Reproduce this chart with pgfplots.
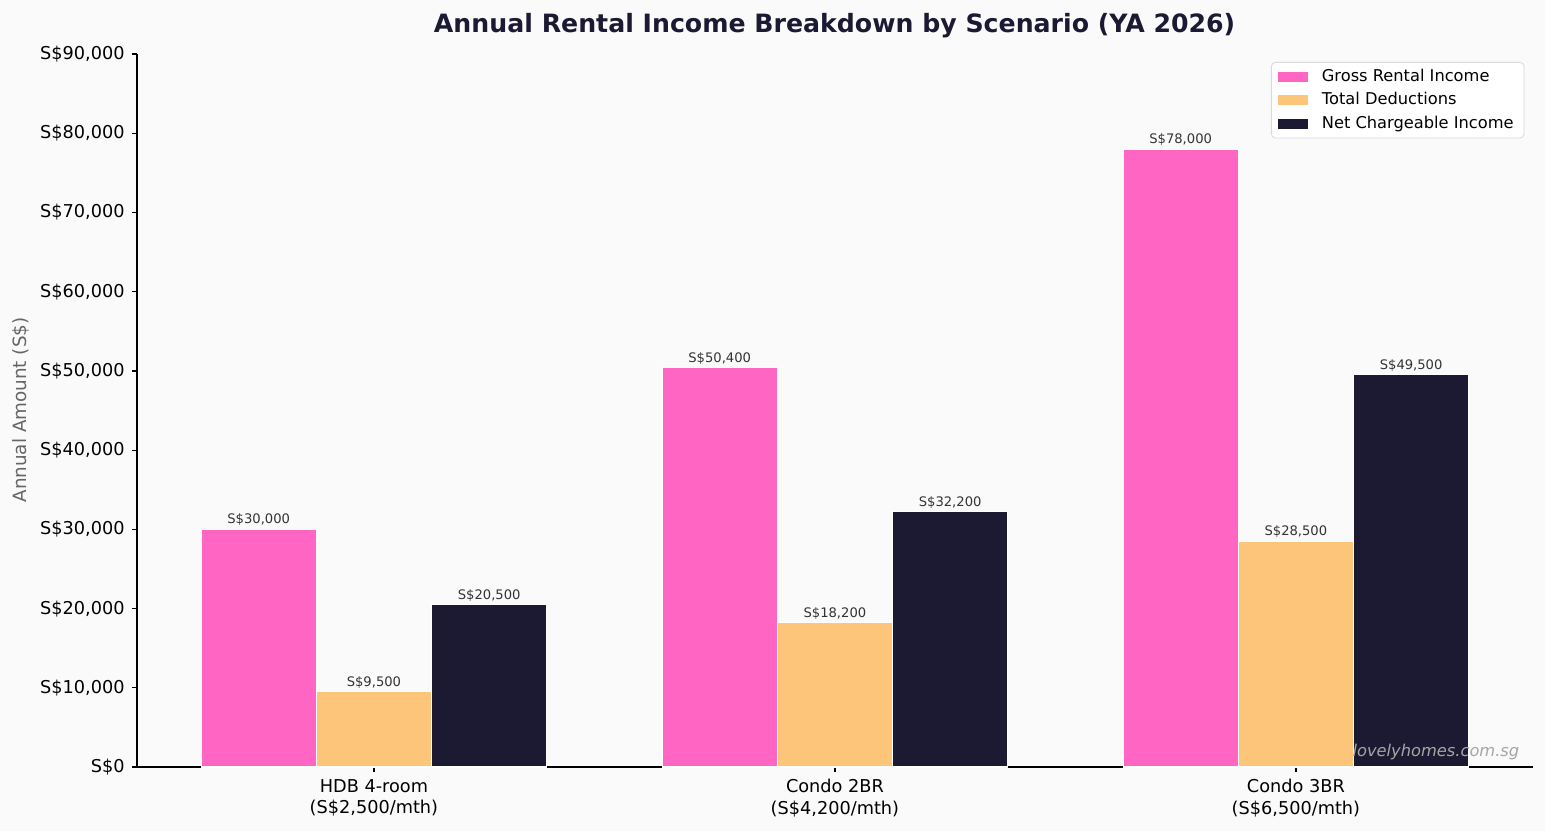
\documentclass[border=0pt]{standalone}
\usepackage{fontspec}
\setmainfont{DejaVu Sans}
\usepackage{pgfplots}
\pgfplotsset{compat=1.18}
\definecolor{bg}{HTML}{FAFAFA}
\definecolor{cpink}{HTML}{FF66C4}
\definecolor{corange}{HTML}{FCC57A}
\definecolor{cnavy}{HTML}{1C1A33}
\definecolor{ctitle}{HTML}{1C1A33}
\definecolor{clabel}{HTML}{333333}
\begin{document}
\begin{tikzpicture}[x=1pt,y=1pt]
\fill[bg] (0,0) rectangle (741.6,-398.9);
\useasboundingbox (0,0) rectangle (741.6,-398.9);
\node[font=\fontsize{12.1}{14}\selectfont\bfseries, text=ctitle] at (400.6,-12.3) {Annual Rental Income Breakdown by Scenario (YA 2026)};
\node[rotate=90, font=\fontsize{8.8}{10}\selectfont, text=black!60] at (9.8,-196.8) {Annual Amount (S\$)};
\begin{axis}[
 at={(65.76pt,-368.16pt)}, anchor=south west,
 width=670pt, height=342.2pt, scale only axis,
 xmin=-0.514, xmax=2.514, ymin=0, ymax=90000,
 axis x line*=bottom, axis y line*=left,
 axis line style={-, black, line width=0.6pt},
 /pgf/number format/assume math mode=true,
 scaled y ticks=false,
 xtick={0,1,2},
 xticklabels={{HDB 4-room\\(S\$2,500/mth)},{Condo 2BR\\(S\$4,200/mth)},{Condo 3BR\\(S\$6,500/mth)}},
 xticklabel style={align=center, font=\fontsize{8.5}{10.2}\selectfont},
 ytick={0,10000,...,90000},
 yticklabel={S\$\pgfmathprintnumber[fixed,1000 sep={,}]{\tick}},
 yticklabel style={font=\fontsize{8.5}{10}\selectfont},
 tick align=outside, major tick length=2.4pt,
 tick style={black, line width=0.6pt},
 ybar, bar width=0.25, bar shift=0pt,
 nodes near coords={S\$\pgfmathprintnumber[fixed,1000 sep={,}]{\pgfplotspointmeta}},
 nodes near coords style={font=\fontsize{6.3}{7}\selectfont, text=clabel, inner sep=1.5pt, anchor=south},
 point meta=y,
 legend style={at={(0.994,0.989)}, anchor=north east, font=\fontsize{7.8}{9}\selectfont,
   draw=black!15, rounded corners=2pt, fill=white, inner xsep=3pt, inner ysep=1.2pt, row sep=-0.2pt},
 legend cell align=left,
 legend image code/.code={\fill[#1,draw=none,sharp corners] (0pt,-2.4pt) rectangle (14.4pt,2.4pt); \path (19pt,0pt);},
]
\addplot[fill=cpink, draw=white, line width=0.5pt] coordinates {(-0.25,30000) (0.75,50400) (1.75,78000)};
\addplot[fill=corange, draw=white, line width=0.5pt] coordinates {(0,9500) (1,18200) (2,28500)};
\addplot[fill=cnavy, draw=white, line width=0.5pt] coordinates {(0.25,20500) (1.25,32200) (2.25,49500)};
\legend{Gross Rental Income, Total Deductions, Net Chargeable Income}
\node[anchor=base east, font=\fontsize{7.8}{9}\selectfont\itshape, text=black!35] at (rel axis cs:0.9955,0.0154) {lovelyhomes.com.sg};
\end{axis}
\end{tikzpicture}
\end{document}
